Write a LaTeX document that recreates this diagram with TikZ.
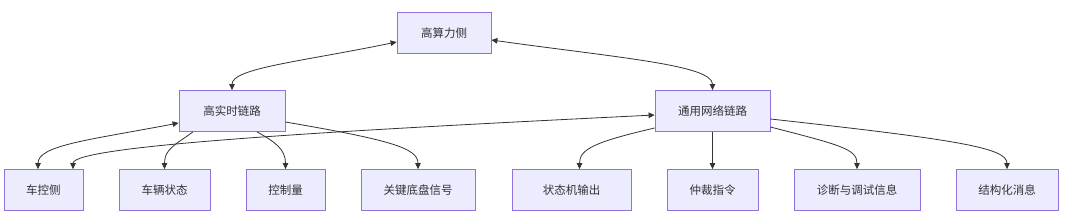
\documentclass[tikz,border=0pt]{standalone}
\usepackage{fontspec}
\setmainfont{Noto Sans CJK SC}
\usetikzlibrary{arrows.meta}
\definecolor{lnkFill}{HTML}{ECECFF}
\definecolor{lnkEdge}{HTML}{9370DB}
\definecolor{lnkInk}{HTML}{333333}
\tikzset{
  lnk box/.style={draw=lnkEdge, fill=lnkFill, line width=0.8pt, minimum height=41pt, inner sep=0pt, font=\fontsize{11.5}{13}\selectfont, text=lnkInk},
  lnk arrow/.style={draw=lnkInk, line width=0.8pt, -{Triangle[length=6pt,width=5.5pt]}},
  lnk both/.style={lnk arrow, {Triangle[length=6pt,width=5.5pt]}-{Triangle[length=6pt,width=5.5pt]}},
}

\begin{document}
\begin{tikzpicture}[x=1pt,y=-1pt]
  \useasboundingbox[fill=white] (0,0) rectangle (1080,214);

  % three levels: compute side, the two links, the payloads
  \node[lnk box, minimum width=94pt]  (top) at (444,33)   {高算力侧};
  \node[lnk box, minimum width=106pt] (rt)  at (232,111)  {高实时链路};
  \node[lnk box, minimum width=115pt] (net) at (712.5,111) {通用网络链路};

  \node[lnk box, minimum width=79pt]  (ctl)  at (43.5,190)  {车控侧};
  \node[lnk box, minimum width=91pt]  (veh)  at (164.5,190) {车辆状态};
  \node[lnk box, minimum width=79pt]  (cmd)  at (285.5,190) {控制量};
  \node[lnk box, minimum width=114pt] (chs)  at (418,190)   {关键底盘信号};
  \node[lnk box, minimum width=119pt] (fsm)  at (571.5,190) {状态机输出};
  \node[lnk box, minimum width=91pt]  (arb)  at (712.5,190) {仲裁指令};
  \node[lnk box, minimum width=126pt] (diag) at (857,190)   {诊断与调试信息};
  \node[lnk box, minimum width=102pt] (msg)  at (1007,190)  {结构化消息};

  % two-way links
  \draw[lnk both] ([yshift=-9pt]top.west) .. controls +(-97,20) and +(0,-22) .. (rt.north);
  \draw[lnk both] ([yshift=-7pt]top.east) .. controls +(129,18) and +(0,-25) .. (net.north);
  \draw[lnk both] ([yshift=-12pt]rt.west) .. controls +(-89,17) and +(0,-24) .. ([xshift=-5.5pt]ctl.north);
  \draw[lnk both] ([yshift=-4pt]net.west) .. controls +(-305,15) and +(0,-24) .. ([xshift=29.5pt]ctl.north);

  % what each link carries
  \draw[lnk arrow] ([xshift=-39pt]rt.south) .. controls +(-18,13) and +(0,-20) .. (veh.north);
  \draw[lnk arrow] ([xshift=25pt]rt.south) .. controls +(18,10) and +(0,-20) .. (cmd.north);
  \draw[lnk arrow] ([yshift=-11pt]rt.east) .. controls +(105,18) and +(0,-21) .. (chs.north);
  \draw[lnk arrow] ([yshift=-17pt]net.west) .. controls +(-60,14) and +(0,-20) .. ([xshift=8pt]fsm.north);
  \draw[lnk arrow] (net.south) -- (arb.north);
  \draw[lnk arrow] ([yshift=-16pt]net.east) .. controls +(70,18) and +(0,-20) .. (diag.north);
  \draw[lnk arrow] ([yshift=-8pt]net.east) .. controls +(190,21) and +(0,-21) .. (msg.north);
\end{tikzpicture}
\end{document}
